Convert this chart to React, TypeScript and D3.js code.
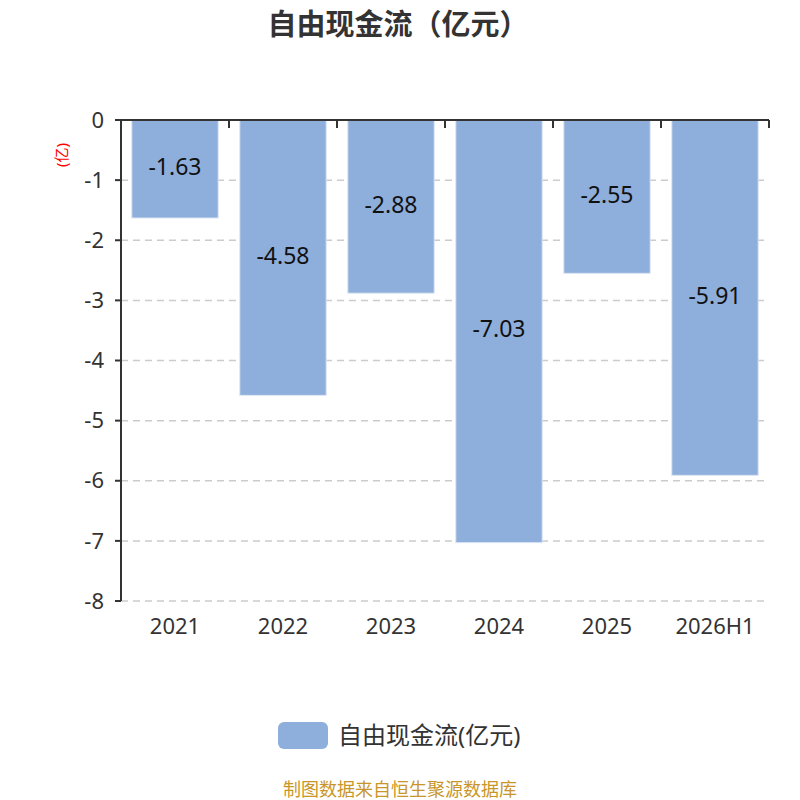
import React from 'react';
import * as d3 from 'd3';

const categories = ['2021', '2022', '2023', '2024', '2025', '2026H1'];
const values = [-1.63, -4.58, -2.88, -7.03, -2.55, -5.91];
const yTicks = [0, -1, -2, -3, -4, -5, -6, -7, -8];

const W = 800;
const H = 800;
const left = 121;
const right = 769;
const top = 120;
const bottom = 601;
const FONT = '"Noto Sans", "Noto Sans CJK SC", sans-serif';

const App: React.FC = () => {
  const x = d3.scaleBand()
    .domain(categories)
    .range([left, right])
    .paddingInner(0.2)
    .paddingOuter(0.1);

  const y = d3.scaleLinear().domain([0, -8]).range([top, bottom]);

  const step = x.step();

  return (
    <svg width={W} height={H} style={{ position: 'absolute', left: 0, top: 0, background: '#fff' }} fontFamily={FONT}>
      <text x={398} y={35} textAnchor="middle" fontSize={29} fontWeight="bold" fill="#333">自由现金流（亿元）</text>

      {/* grid */}
      {yTicks.filter(t => t !== 0).map(t => (
        <line key={t} x1={left} x2={right} y1={y(t)} y2={y(t)} stroke="#ccc" strokeWidth={1.5} strokeDasharray="7,5" />
      ))}

      {/* bars */}
      {values.map((v, i) => (
        <rect key={categories[i]}
          x={x(categories[i])}
          y={y(0)}
          width={x.bandwidth()}
          height={y(v) - y(0)}
          fill="#8eaedb"
          stroke="#dde6f4"
          strokeWidth={1} />
      ))}

      {/* bar labels */}
      {values.map((v, i) => (
        <text key={'l' + i}
          x={(x(categories[i]) || 0) + x.bandwidth() / 2}
          y={(y(0) + y(v)) / 2 - 2}
          dy="0.35em"
          textAnchor="middle"
          fontSize={23}
          fill="#111">{v.toFixed(2)}</text>
      ))}

      {/* y axis */}
      <line x1={left} x2={left} y1={top} y2={bottom} stroke="#333" strokeWidth={2} />
      {yTicks.map(t => (
        <g key={'y' + t}>
          <line x1={left - 6} x2={left} y1={y(t)} y2={y(t)} stroke="#333" strokeWidth={2} />
          <text x={left - 17} y={y(t)} dy="0.35em" textAnchor="end" fontSize={22} fill="#333">{t}</text>
        </g>
      ))}
      <text transform={`translate(62,155) rotate(-90)`} textAnchor="middle" dy="0.35em" fontSize={15} fill="red">(亿)</text>

      {/* x axis at zero */}
      <line x1={left} x2={right} y1={y(0)} y2={y(0)} stroke="#333" strokeWidth={2} />
      {categories.map((c, i) => (
        <line key={'xt' + c} x1={left + step * (i + 1)} x2={left + step * (i + 1)} y1={y(0)} y2={y(0) + 8} stroke="#333" strokeWidth={2} />
      ))}
      {categories.map(c => (
        <text key={'xl' + c} x={(x(c) || 0) + x.bandwidth() / 2} y={634} textAnchor="middle" fontSize={22} fill="#333">{c}</text>
      ))}

      {/* legend */}
      <rect x={278} y={722} width={50} height={27} rx={6} fill="#8eaedb" />
      <text x={338} y={736} dy="0.35em" fontSize={24} fill="#333">自由现金流(亿元)</text>

      <text x={400} y={796} textAnchor="middle" fontSize={18} fill="#c8962a">制图数据来自恒生聚源数据库</text>
    </svg>
  );
};

export default App;
